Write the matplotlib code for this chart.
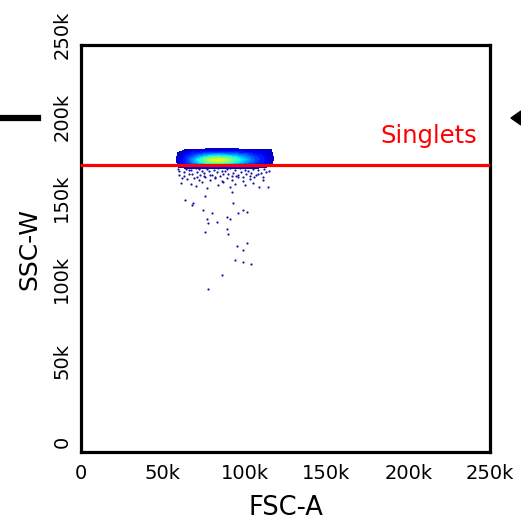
import numpy as np
import matplotlib
matplotlib.use("Agg")
import matplotlib.pyplot as plt
from matplotlib.lines import Line2D
from matplotlib.patches import Polygon
from matplotlib.transforms import ScaledTranslation

# density grid of the main population (values 0..1), x in k, y in k
grid_x = [56, 60, 64, 68, 72, 76, 80, 84, 88, 92, 96, 100, 104, 108, 112, 116, 120]
grid_y = [187, 185.5, 184, 182.5, 181, 179.5, 178, 176.5, 175, 173.5]
density = [
    [0, 0, 0, 0, 0, 0, 0, 0, 0, 0, 0, 0, 0, 0, 0, 0, 0],
    [0, 0, .055, .07, .07, .08, .08, .08, .08, .08, .08, .07, .07, .06, .055, .05, 0],
    [0, .055, .08, .12, .14, .16, .17, .17, .17, .16, .15, .14, .12, .10, .08, .055, 0],
    [0, .06, .12, .17, .22, .26, .30, .32, .30, .28, .25, .22, .18, .14, .10, .06, 0],
    [0, .07, .14, .22, .30, .38, .44, .46, .44, .40, .34, .28, .22, .17, .12, .07, 0],
    [0, .07, .16, .26, .38, .52, .62, .66, .60, .50, .40, .32, .25, .18, .13, .07, 0],
    [0, .07, .15, .24, .34, .44, .50, .52, .48, .42, .34, .28, .22, .16, .12, .06, 0],
    [0, .06, .12, .16, .20, .24, .26, .26, .25, .22, .20, .17, .14, .11, .08, .055, 0],
    [0, .05, .08, .10, .10, .12, .12, .12, .12, .10, .10, .09, .08, .07, .06, 0, 0],
    [0, 0, 0, 0, 0, 0, 0, 0, 0, 0, 0, 0, 0, 0, 0, 0, 0],
]

# sparse events below the population (FSC-A k, SSC-W k)
sparse_x = [60, 63, 66, 68, 71, 73, 75, 78, 80, 83, 85, 88, 90, 93, 95, 98, 101, 104, 107, 110, 113,
            62, 65, 69, 72, 76, 79, 82, 86, 89, 92, 96, 99, 103, 106, 111,
            61, 67, 70, 74, 77, 84, 87, 91, 94, 100, 105, 109,
            59, 64, 67, 70, 72, 74, 77, 81, 84, 86, 89, 91, 94, 97, 100, 102, 105, 108, 112, 115,
            60, 63, 66, 71, 75, 79, 82, 87, 92, 96, 99, 103, 108, 111,
            114.6, 63.7, 68.0, 76.0, 80.3, 92.5, 93.1, 99.3, 101.7, 96.2, 89.5, 91.3, 77.2,
            77.8, 83.3, 89.5, 90.1, 76.0, 101.7, 95.6, 99.3, 94.4, 99.3, 104.2, 86.4, 77.8,
            68.6, 74.8]
sparse_y = [172.5, 171.8, 173.0, 170.9, 172.2, 170.4, 171.6, 172.8, 170.2, 171.9, 169.8, 172.4, 170.7,
            171.3, 169.5, 172.0, 170.8, 171.4, 169.9, 171.1, 172.3,
            168.6, 167.9, 168.3, 166.8, 168.9, 167.2, 168.1, 166.5, 168.4, 167.0, 168.7, 166.2, 167.6,
            168.9, 169.2,
            165.3, 164.8, 163.6, 165.9, 162.4, 164.2, 165.6, 163.1, 164.7, 163.8, 165.1, 162.9,
            173.6, 174.1, 173.3, 174.4, 173.8, 172.9, 174.0, 173.4, 174.3, 172.7, 173.9, 174.2, 173.1,
            174.5, 173.5, 172.6, 174.0, 173.2, 173.7, 172.8,
            170.1, 169.4, 170.6, 169.0, 169.7, 170.3, 169.2, 170.9, 169.6, 170.4, 168.9, 169.8, 170.5,
            167.4,
            162.6, 154.6, 151.5, 157.0, 146.6, 159.5, 152.7, 148.4, 147.2, 146.6, 144.1, 142.9, 142.9,
            140.4, 141.0, 136.7, 134.2, 134.9, 128.7, 126.8, 124.4, 118.2, 117.0, 115.8, 109.0, 100.4,
            152.7, 148.4]

gate_y = 176.4
ticks = [0, 50000, 100000, 150000, 200000, 250000]
tick_labels = ["0", "50k", "100k", "150k", "200k", "250k"]

fig = plt.figure(figsize=(5.21, 5.23), dpi=100)
ax = fig.add_axes([0.1555, 0.1358, 0.785, 0.778])

gx = np.array(grid_x) * 1000
gy = np.array(grid_y) * 1000
ax.scatter(np.array(sparse_x) * 1000, np.array(sparse_y) * 1000, s=2.5, color="#1414a0",
           linewidths=0, zorder=2)
ax.contourf(gx, gy, np.array(density), levels=np.linspace(0.045, 1, 24), cmap="jet",
            vmin=0, vmax=1, zorder=3)

ax.axhline(gate_y * 1000, color="#ff0000", lw=2.3, zorder=4)
ax.text(242000, 189700, "Singlets", color="#ff0000", fontsize=17.5, ha="right", va="baseline")

ax.set_xlim(0, 250000)
ax.set_ylim(0, 250000)
ax.set_xticks(ticks)
ax.set_xticklabels(tick_labels)
ax.set_yticks(ticks)
ax.set_yticklabels(tick_labels, rotation=90, va="center")
ax.tick_params(length=0, labelsize=14)
ax.tick_params(axis="x", pad=9)
ax.tick_params(axis="y", pad=7)
for lab in ax.get_yticklabels():
    lab.set_transform(lab.get_transform() + ScaledTranslation(0, 10 / 100, fig.dpi_scale_trans))
for s in ax.spines.values():
    s.set_linewidth(2.3)
ax.set_xlabel("FSC-A", fontsize=18.5, labelpad=8)
ax.set_ylabel("SSC-W", fontsize=18, labelpad=8)

# bits of the neighbouring panels
fig.add_artist(Line2D([0, 38 / 521], [1 - 118 / 523, 1 - 118 / 523], color="black", lw=4.5))
fig.add_artist(Polygon([[511 / 521, 1 - 118 / 523], [1.0, 1 - 111 / 523], [1.0, 1 - 125 / 523]],
                       closed=True, color="black"))

fig.savefig("out.png", dpi=100)
